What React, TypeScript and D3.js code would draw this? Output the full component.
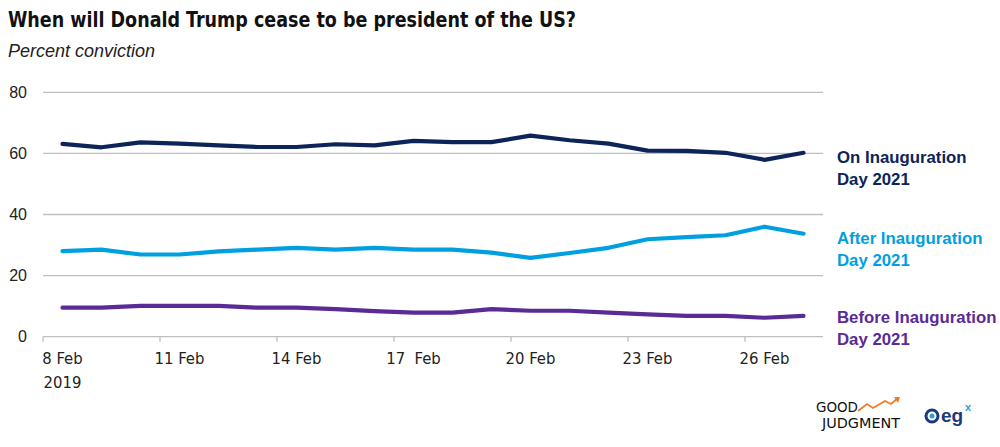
import React from "react";
import * as d3 from "d3";

const days = ["8", "9", "10", "11", "12", "13", "14", "15", "16", "17", "18", "19", "20", "21", "22", "23", "24", "25", "26", "27"];
const tickLabels = ["8 Feb", "11 Feb", "14 Feb", "17  Feb", "20 Feb", "23 Feb", "26 Feb"];
const onDay = [63.1, 62.0, 63.6, 63.2, 62.6, 62.1, 62.1, 63.0, 62.6, 64.1, 63.7, 63.7, 65.8, 64.3, 63.2, 60.9, 60.8, 60.2, 57.9, 60.2];
const afterDay = [28.0, 28.5, 26.9, 26.9, 27.9, 28.5, 29.1, 28.5, 29.1, 28.5, 28.5, 27.5, 25.8, 27.4, 29.1, 31.9, 32.6, 33.2, 36.0, 33.7];
const beforeDay = [9.5, 9.5, 10.1, 10.1, 10.1, 9.5, 9.5, 9.0, 8.4, 7.9, 7.9, 9.0, 8.5, 8.5, 7.9, 7.3, 6.8, 6.8, 6.2, 6.8];
const yTicks = [0, 20, 40, 60, 80];

const series = [
  { name: ["On Inauguration", "Day 2021"], values: onDay, color: "#0c2459", labelY: 163 },
  { name: ["After Inauguration", "Day 2021"], values: afterDay, color: "#00a0e0", labelY: 244 },
  { name: ["Before Inauguration", "Day 2021"], values: beforeDay, color: "#5b2a96", labelY: 323 },
];

const condensed = "'DejaVu Sans Condensed', 'Liberation Sans Narrow', sans-serif";
const sans = "'Liberation Sans', Arial, sans-serif";

export default function App() {
  const W = 1000, H = 447;
  const x = d3.scaleBand().domain(days).range([43, 823]);
  const y = d3.scaleLinear().domain([0, 80]).range([336.7, 92.3]);
  const cx = (i: number) => (x(days[i]) as number) + x.bandwidth() / 2;
  const line = d3.line<number>().x((_, i) => cx(i)).y((v) => y(v));
  const tickIdx = [0, 3, 6, 9, 12, 15, 18];
  return (
    <svg width={W} height={H} style={{ position: "absolute", left: 0, top: 0, background: "#fff" }}>
      <text x={8} y={27} fontFamily={condensed} fontWeight="bold" fontSize={22} fill="#111" textLength={568} lengthAdjust="spacingAndGlyphs">
        When will Donald Trump cease to be president of the US?
      </text>
      <text x={8} y={57} fontFamily={sans} fontStyle="italic" fontSize={18} fill="#222">
        Percent conviction
      </text>
      {yTicks.map((t) => (
        <g key={t}>
          <line x1={43} x2={823} y1={y(t)} y2={y(t)} stroke="#bfbfbf" strokeWidth={1.3} />
          <text x={27} y={y(t) + 5.5} textAnchor="end" fontFamily={sans} fontSize={16} fill="#222">
            {t}
          </text>
        </g>
      ))}
      {tickIdx.map((i) => (
        <line key={i} x1={x(days[i]) as number} x2={x(days[i]) as number} y1={y(0)} y2={y(0) + 5} stroke="#bfbfbf" strokeWidth={1.3} />
      ))}
      {tickIdx.map((i, k) => (
        <text key={k} x={cx(i)} y={364} textAnchor="middle" fontFamily={condensed} fontSize={16.5} fill="#222" style={{ whiteSpace: "pre" }}>
          {tickLabels[k]}
        </text>
      ))}
      <text x={cx(0)} y={388} textAnchor="middle" fontFamily={condensed} fontSize={16.5} fill="#222">2019</text>
      {series.map((s) => (
        <g key={s.name[0]}>
          <path d={line(s.values) || ""} fill="none" stroke={s.color} strokeWidth={4.2} strokeLinejoin="round" strokeLinecap="round" />
          <text x={837} y={s.labelY} fontFamily={sans} fontWeight="bold" fontSize={16.8} fill={s.color}>
            <tspan x={837}>{s.name[0]}</tspan>
            <tspan x={837} dy={21.5}>{s.name[1]}</tspan>
          </text>
        </g>
      ))}
      {/* logos */}
      <g>
        <text x={816} y={412} fontFamily={condensed} fontSize={14} fill="#111" textLength={42} lengthAdjust="spacingAndGlyphs">GOOD</text>
        <text x={822} y={428} fontFamily={condensed} fontSize={14} fill="#111" textLength={78} lengthAdjust="spacingAndGlyphs">JUDGMENT</text>
        <polyline points="858,411 867,404 873,408 885,401 891,404 898,398" fill="none" stroke="#f07b22" strokeWidth={1.8} />
        <path d="M894,397 L900,397 L898,403 Z" fill="#f07b22" />
        <circle cx={932} cy={416} r={6} fill="none" stroke="#1d3a7a" strokeWidth={3} />
        <circle cx={932} cy={416} r={2.5} fill="#2a9fd8" />
        <text x={941} y={422} fontFamily={sans} fontWeight="bold" fontSize={19} fill="#1d3a7a">eg</text>
        <text x={965} y={411} fontFamily={sans} fontWeight="bold" fontSize={11} fill="#2a9fd8">x</text>
      </g>
    </svg>
  );
}
